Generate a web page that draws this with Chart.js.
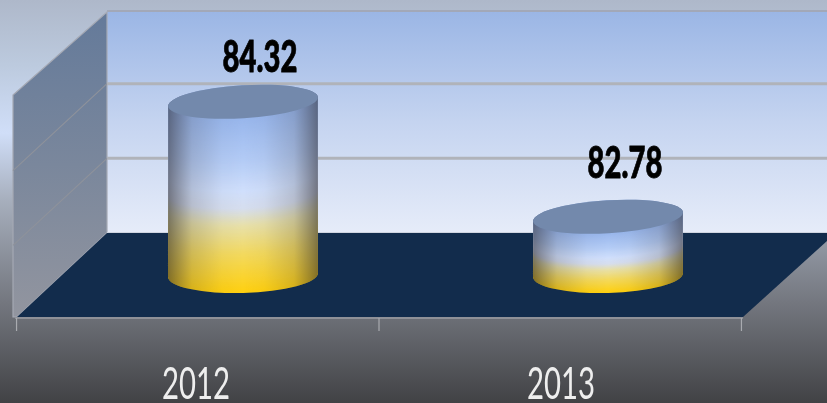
<!DOCTYPE html>
<html><head><meta charset="utf-8">
<style>html,body{margin:0;padding:0;background:#444}canvas{display:block;filter:blur(0.6px)}</style>
<script src="https://cdn.jsdelivr.net/npm/chart.js@4"></script></head>
<body><canvas id="c" width="827" height="403"></canvas>
<script>
const categories = ['2012', '2013'];
const values = [84.32, 82.78];
const valueLabels = ['84.32', '82.78'];
const gridValues = [83, 84];
const axisMin = 82, axisMax = 85;

const DEPTH_Y = 42;
const CAP_TILT = -3.5, BASE_TILT = -1.5;
const BODY_STOPS = [[0,'#98b6ec'],[0.25,'#b4ccf6'],[0.42,'#d0dffc'],[0.52,'#d6deee'],[0.62,'#e8e0a8'],[0.78,'#f3d95e'],[1,'#ffd010']];

function lerpStops(t){
  let i=0; while(i<BODY_STOPS.length-2 && t>BODY_STOPS[i+1][0]) i++;
  const [a,ca]=BODY_STOPS[i],[b,cb]=BODY_STOPS[i+1];
  const f=Math.max(0,Math.min(1,(t-a)/(b-a)));
  const p=c=>[1,3,5].map(k=>parseInt(c.substr(k,2),16));
  const A=p(ca),B=p(cb);
  return `rgb(${A.map((v,k)=>Math.round(v+(B[k]-v)*f)).join(',')})`;
}
const rad=d=>d*Math.PI/180;
function ell(ctx,x,y,rx,ry,rot){ctx.beginPath();ctx.ellipse(x,y,rx,ry,rot,0,Math.PI*2);}
function bodyPath(ctx,x,top,base,rx){
  ctx.beginPath();
  ctx.ellipse(x,top,rx,16.5,rad(CAP_TILT),Math.PI,2*Math.PI);
  ctx.ellipse(x,base,rx,18,rad(BASE_TILT),0,Math.PI);
  ctx.closePath();
}

const scene = {
  id:'scene',
  beforeDraw(chart){
    const {ctx,width:W,height:H,scales:{y}}=chart;
    const back=v=>y.getPixelForValue(v)-DEPTH_Y;
    const bg=ctx.createLinearGradient(0,0,0,H);
    bg.addColorStop(0,'#aeb8ca');bg.addColorStop(0.16,'#bccade');bg.addColorStop(0.33,'#d0def8');
    bg.addColorStop(0.5,'#a6aebc');bg.addColorStop(0.75,'#74777f');bg.addColorStop(1,'#414245');
    ctx.fillStyle=bg;ctx.fillRect(0,0,W,H);

    const wallTop=12, wallBot=back(axisMin), xb=107;
    const bw=ctx.createLinearGradient(0,wallTop,0,wallBot);
    bw.addColorStop(0,'#9bb6e5');bw.addColorStop(0.5,'#c5d4f0');bw.addColorStop(1,'#e6ecf9');
    ctx.fillStyle=bw;ctx.fillRect(xb,wallTop,W-xb,wallBot-wallTop);
    ctx.strokeStyle='#a2a8b8';ctx.lineWidth=2;
    ctx.beginPath();ctx.moveTo(xb,wallTop-1);ctx.lineTo(W,wallTop-1);ctx.stroke();
    const lw=ctx.createLinearGradient(0,wallTop,0,wallBot+84);
    lw.addColorStop(0,'#647a9a');lw.addColorStop(0.5,'#7a879c');lw.addColorStop(1,'#92959f');
    ctx.fillStyle=lw;ctx.beginPath();ctx.moveTo(xb,wallTop);ctx.lineTo(xb,wallBot);ctx.lineTo(17,317);ctx.lineTo(13,317);ctx.lineTo(13,95);ctx.closePath();ctx.fill();
    ctx.strokeStyle='#a5a9b4';ctx.lineWidth=1.2;ctx.stroke();
    gridValues.forEach(v=>{
      const b=back(v);
      ctx.strokeStyle='#b0b3ba';ctx.lineWidth=3;
      ctx.beginPath();ctx.moveTo(xb,b);ctx.lineTo(W,b);ctx.stroke();
      ctx.strokeStyle='#8e929b';ctx.lineWidth=1.2;
      ctx.beginPath();ctx.moveTo(xb,b);ctx.lineTo(13,b+87);ctx.stroke();
    });
    ctx.fillStyle='#122c4c';
    ctx.beginPath();ctx.moveTo(xb,wallBot);ctx.lineTo(W,wallBot);ctx.lineTo(W,241);ctx.lineTo(743,317);ctx.lineTo(17,317);ctx.closePath();ctx.fill();
    ctx.strokeStyle='#cfd5e0';ctx.lineWidth=1;ctx.beginPath();ctx.moveTo(xb,wallBot-.5);ctx.lineTo(W,wallBot-.5);ctx.stroke();
    ctx.strokeStyle='#8f9198';ctx.lineWidth=2;
    ctx.beginPath();ctx.moveTo(15,318);ctx.lineTo(743,318);ctx.stroke();
    ctx.strokeStyle='#a9abb0';ctx.lineWidth=1.2;
    const xs=chart.scales.x;
    [-0.5,0.5,1.5].forEach(v=>{
      const p=379+(xs.getPixelForValue(v)-xs.getPixelForValue(0.5))*0.993;
      ctx.beginPath();ctx.moveTo(p,318);ctx.lineTo(p,331);ctx.stroke();
    });
  },
  afterUpdate(chart){
    const xs=chart.scales.x;
    if(xs._wrapped) return;
    xs._wrapped=true;
    const orig=xs.drawLabels.bind(xs);
    xs.drawLabels=function(area){
      const c=chart.ctx,f=c.fillText;
      c.fillText=function(t,x,y){c.save();c.translate(x,y);c.scale(0.667,1);f.call(c,t,0,0);c.restore();};
      orig(area);
      delete c.fillText;
    };
  },
  beforeDatasetDraw(chart,args){
    const c=chart.ctx;
    c.save();
    args.meta.data.forEach(b=>{
      const p=new Path2D();
      p.ellipse(b.x,b.y,b.width/2,16.5,rad(CAP_TILT),Math.PI,2*Math.PI);
      p.ellipse(b.x,b.base,b.width/2,18,rad(BASE_TILT),0,Math.PI);
      p.closePath();
      c.clip(p);
    });
  },
  afterDatasetDraw(chart,args){
    const c=chart.ctx;c.restore();
    args.meta.data.forEach((b,i)=>{
      const rx=b.width/2,top=b.y,base=b.base;
      const n=Math.round(base-top);
      for(let k=n;k>=0;k--){
        const f=k/n;
        c.fillStyle=lerpStops(f);
        ell(c,b.x,top+(base-top)*f,rx,16.5+1.5*f,rad(CAP_TILT+(BASE_TILT-CAP_TILT)*f));c.fill();
      }
      c.save();bodyPath(c,b.x,top,base,rx);c.clip();
      const s=c.createLinearGradient(b.x-rx,0,b.x+rx,0);
      s.addColorStop(0,'rgba(45,45,55,.6)');s.addColorStop(0.16,'rgba(60,60,70,.2)');s.addColorStop(0.36,'rgba(60,60,70,.03)');s.addColorStop(0.5,'rgba(60,60,70,0)');
      s.addColorStop(0.64,'rgba(60,60,70,.03)');s.addColorStop(0.84,'rgba(60,60,70,.2)');s.addColorStop(1,'rgba(45,45,55,.6)');
      c.fillStyle=s;c.fillRect(b.x-rx-2,top-30,2*rx+4,base-top+60);
      c.restore();
      ell(c,b.x,top,rx,16.5,rad(CAP_TILT));c.fillStyle='#7389ac';c.fill();
      const o=chart.options.plugins.scene;
      c.save();c.translate(b.x+o.labelDx,top+o.labelDy[i]+2);c.scale(0.68,1);
      c.font='900 43px Lato';c.fillStyle='#000';c.strokeStyle='#000';c.lineWidth=0.8;c.textAlign='center';c.textBaseline='middle';
      c.fillText(valueLabels[i],0,0);c.strokeText(valueLabels[i],0,0);c.restore();
    });
  }
};

new Chart(document.getElementById('c'),{
  type:'bar',
  data:{labels:categories,datasets:[{data:values,backgroundColor:'#b4caf2',borderWidth:0,
    barPercentage:150/365,categoryPercentage:1,base:axisMin}]},
  options:{
    responsive:false,animation:false,
    layout:{padding:{left:60.5,right:36.5,top:51,bottom:0}},
    plugins:{legend:{display:false},tooltip:{enabled:false},title:{display:false},
      scene:{labelDx:17,labelDy:[-45.5,-55]}},
    scales:{
      x:{grid:{display:false},border:{display:false},
        afterFit(s){s.height=128;},
        ticks:{color:'#eeeeee',padding:75,labelOffset:-47,maxRotation:0,
          font:{family:'Lato',size:44}}},
      y:{display:false,min:axisMin,max:axisMax}
    }
  },
  plugins:[scene]
});
</script></body></html>
